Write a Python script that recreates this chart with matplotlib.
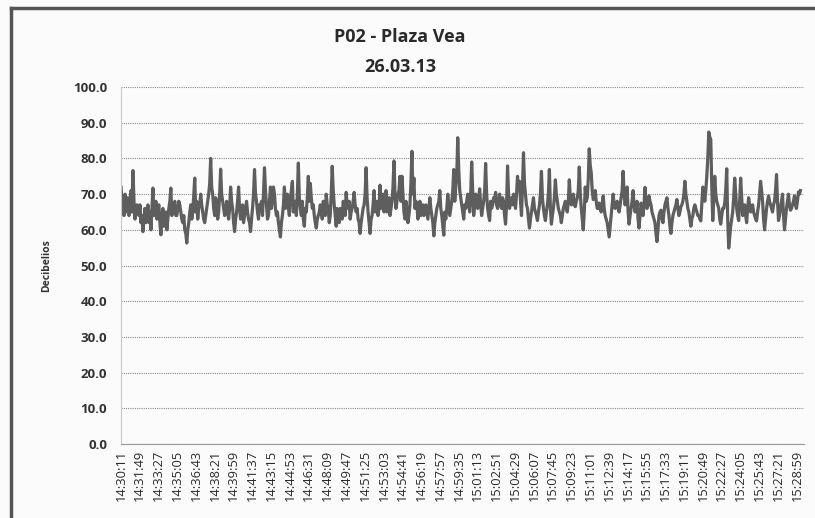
import numpy as np
import matplotlib
matplotlib.use('Agg')
import matplotlib.pyplot as plt
from matplotlib.lines import Line2D

# sound level readings (dB), every ~10.4 s from 14:30:11
db_values = [
    72, 66, 70, 65, 64, 71, 76.6, 63, 67, 64,
    62, 59.5, 66, 64, 62, 60, 71.7, 65, 63, 67,
    58.6, 66, 63, 60, 66, 71.7, 65, 68, 64, 68,
    65, 62, 60, 56.3, 62, 67, 65, 74.5, 68, 66,
    70, 65, 62, 66, 70, 80, 70, 64, 67, 65,
    77, 68, 64, 68, 63, 72, 66, 59.5, 65, 72,
    63, 67, 64, 68, 63, 59.5, 66, 76.9, 68, 63,
    66, 64, 77.4, 67, 64, 72, 69, 70, 64, 62,
    58, 64, 72, 68, 66, 69, 73.6, 67, 64, 78.7,
    66, 68, 61, 65, 75, 73, 66, 64, 60.5, 64,
    67, 63, 66, 70, 66, 64, 77.8, 67, 61, 64,
    66, 63, 67, 70.5, 66, 63, 66, 70.5, 65, 63,
    59, 64, 67, 77.4, 65, 59, 64, 71, 67, 64,
    72.5, 68, 65, 71, 67, 64, 68, 79.3, 66, 70,
    75, 75, 65, 68, 62, 67, 82, 74.5, 68, 63,
    68, 66, 64, 67, 63, 69, 64, 58.3, 64, 67,
    71, 64, 58.5, 63, 70, 64, 68, 76.9, 72, 85.8,
    71, 67, 63, 66, 70, 65, 79, 64, 70, 66,
    71.5, 64, 68, 78.6, 66, 62.6, 66, 69, 70.5, 66,
    70, 66, 68, 61.6, 77.9, 66, 69, 70, 66, 75,
    73.6, 64, 81.6, 70, 66, 60.5, 65, 69, 65, 62.6,
    67, 76.4, 66, 62.6, 67, 76.9, 61.6, 66, 74, 68,
    65, 62, 66, 68, 65, 74, 67, 70, 66.5, 69,
    77.6, 66, 60, 72, 69, 82.7, 76, 68.5, 71, 66,
    67.5, 65, 69.5, 64, 62, 58, 64, 70, 66, 68,
    65, 69, 76.4, 67, 72, 61.6, 66, 71, 65, 68,
    60.5, 67.5, 64, 71.9, 66, 69.5, 67, 64, 62, 56.7,
    64, 65.5, 62, 67, 69, 64, 59, 64, 66, 68.5,
    64, 66.5, 68, 73.6, 68, 65, 61, 64, 67, 65,
    64, 62.5, 72, 68, 75, 87.4, 85.3, 62.6, 75, 68,
    66, 61.6, 66, 67.5, 77.1, 54.9, 61, 65, 74.5, 66,
    62.6, 74.5, 64, 67, 62, 69, 65, 67, 64, 62.5,
    67, 73.6, 68, 60, 66, 69.5, 67, 65, 68, 75.5,
    62.6, 66, 70, 60, 66, 70, 65.5, 67, 69.5, 66,
    70.6, 71,
]
# readings taken half-way between the ones above
db_between = [
    68, 64, 66, 69, 67, 65, 68, 66, 65, 67,
    64, 63, 62, 67, 65, 66, 64, 68, 66, 62,
    63, 61, 65, 63, 68, 64, 67, 64, 66, 67,
    63, 64, 59, 60, 65, 63, 70, 65, 63, 67,
    67, 63, 64, 68, 73, 72, 66, 69, 63, 70,
    70, 66, 65, 65, 66, 68, 62, 63, 68, 66,
    65, 62, 66, 65, 62, 63, 70, 70, 65, 67,
    68, 70, 71, 63, 68, 66, 72, 66, 65, 60,
    62, 67, 66, 70, 64, 71, 65, 68, 70, 69,
    64, 63, 66, 69, 68, 69, 67, 62, 63, 65,
    65, 68, 64, 67, 62, 70, 71, 64, 66, 62,
    65, 68, 64, 67, 68, 65, 68, 67, 66, 62,
    62, 66, 70, 69, 62, 63, 67, 65, 68, 66,
    66, 70, 67, 65, 69, 66, 72, 70, 68, 71,
    68, 70, 63, 66, 64, 73, 70, 66, 67, 65,
    64, 67, 66, 65, 66, 66, 62, 62, 66, 68,
    66, 61, 65, 66, 67, 66, 71, 68, 75, 77,
    69, 65, 67, 68, 67, 70, 71, 67, 68, 69,
    67, 66, 71, 70, 64, 68, 67, 68, 67, 68,
    67, 69, 64, 67, 70, 68, 67, 68, 70, 71,
    68, 72, 73, 67, 63, 63, 67, 66, 64, 65,
    70, 69, 64, 65, 70, 66, 64, 69, 70, 66,
    64, 64, 67, 66, 68, 69, 68, 67, 68, 71,
    70, 63, 65, 68, 74, 78, 71, 69, 68, 66,
    66, 67, 66, 63, 60, 61, 67, 67, 67, 66,
    67, 71, 70, 69, 65, 64, 68, 67, 66, 63,
    64, 66, 67, 68, 67, 68, 65, 63, 59, 60,
    65, 63, 65, 68, 66, 61, 62, 65, 67, 66,
    65, 67, 70, 70, 66, 63, 63, 66, 66, 64,
    63, 67, 70, 71, 80, 86, 72, 69, 70, 67,
    63, 64, 66, 71, 63, 58, 63, 69, 70, 64,
    68, 69, 66, 64, 66, 67, 66, 65, 63, 65,
    70, 71, 63, 63, 68, 68, 66, 67, 71, 68,
    64, 68, 64, 63, 68, 67, 66, 68, 67, 68,
    70,
]
sample_step = 5.2       # seconds between readings
label_step = 98         # seconds between axis labels
start_h, start_m, start_s = 14, 30, 11
n_labels = 37
axis_span = 3565

series = []
for i in range(len(db_values)):
    series.append(db_values[i])
    if i < len(db_between):
        series.append(db_between[i])
times = np.arange(len(series)) * sample_step


def clock(sec):
    total = start_h * 3600 + start_m * 60 + start_s + int(sec)
    return '%02d:%02d:%02d' % (total // 3600, (total % 3600) // 60, total % 60)


tick_pos = [i * label_step for i in range(n_labels)]
tick_labels = [clock(t) for t in tick_pos]

fig = plt.figure(figsize=(8.15, 5.18), dpi=100, facecolor='#fbfbfb')
ax = fig.add_axes([0.1485, 0.1429, 0.838, 0.689])
ax.set_facecolor('#fbfbfb')

ax.plot(times, series, color='#5e5e5e', linewidth=2.3)

ax.set_xlim(0, axis_span)
ax.set_ylim(0, 100)
ax.set_yticks(np.arange(0, 101, 10))
ax.set_yticklabels(['%.1f' % v for v in np.arange(0, 101, 10)],
                   fontsize=9.5, fontweight='bold', color='#333333', family='Open Sans')
ax.set_xticks(tick_pos)
ax.set_xticklabels(tick_labels, rotation=90, fontsize=9.3, color='#2a2a2a', family='Open Sans')
ax.tick_params(axis='y', length=0, pad=10)
ax.tick_params(axis='x', length=0, pad=4)

ax.grid(axis='y', color='#8a8a8a', linestyle=(0, (1, 1)), linewidth=0.8)
ax.set_axisbelow(True)
for side in ['top', 'right']:
    ax.spines[side].set_visible(False)
ax.spines['left'].set_color('#c8c8c8')
ax.spines['bottom'].set_color('#9a9a9a')

ax.set_ylabel('Decibelios', fontsize=7.5, fontweight='bold', color='#333333',
              family='Open Sans', labelpad=15)

fig.text(0.491, 0.928, 'P02 - Plaza Vea', ha='center', va='center', fontsize=13,
         fontweight='bold', color='#2a2a2a', family='Open Sans')
fig.text(0.491, 0.870, '26.03.13', ha='center', va='center', fontsize=13,
         fontweight='bold', color='#2a2a2a', family='Open Sans')

# scanned page frame
fig.add_artist(Line2D([11 / 815, 11 / 815], [0, 1 - 8 / 518], color='#555555', linewidth=2.5))
fig.add_artist(Line2D([11 / 815, 1], [1 - 8 / 518, 1 - 8 / 518], color='#555555', linewidth=2.5))

fig.savefig('out.png', dpi=100, facecolor=fig.get_facecolor())
